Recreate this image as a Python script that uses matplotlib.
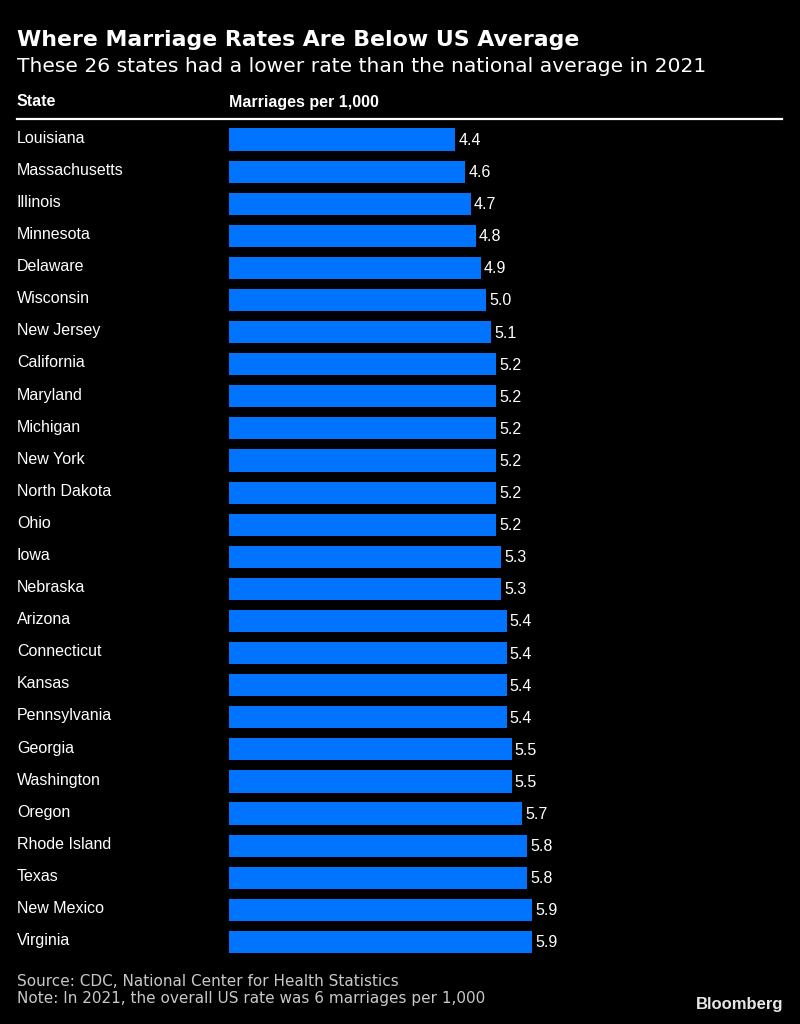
import matplotlib.pyplot as plt
from matplotlib.transforms import blended_transform_factory

states = ['Louisiana', 'Massachusetts', 'Illinois', 'Minnesota', 'Delaware',
          'Wisconsin', 'New Jersey', 'California', 'Maryland', 'Michigan',
          'New York', 'North Dakota', 'Ohio', 'Iowa', 'Nebraska', 'Arizona',
          'Connecticut', 'Kansas', 'Pennsylvania', 'Georgia', 'Washington',
          'Oregon', 'Rhode Island', 'Texas', 'New Mexico', 'Virginia']
rates = [4.4, 4.6, 4.7, 4.8, 4.9, 5.0, 5.1, 5.2, 5.2, 5.2, 5.2, 5.2, 5.2,
         5.3, 5.3, 5.4, 5.4, 5.4, 5.4, 5.5, 5.5, 5.7, 5.8, 5.8, 5.9, 5.9]

W, H = 800, 1024
bg = 'black'
blue = '#0073ff'
lab = ['Liberation Sans', 'DejaVu Sans']

fig = plt.figure(figsize=(W / 100, H / 100), dpi=100, facecolor=bg)

# axes placed in pixel units: bars start at x=229, rows from y~123 to ~958
left, right = 229, 782
top, bottom = 123.5, 958
ax = fig.add_axes([left / W, 1 - bottom / H, (right - left) / W, (bottom - top) / H])
ax.set_facecolor(bg)
px_per_unit = 51.4
ax.set_xlim(0, (right - left) / px_per_unit)
ax.set_ylim(len(states) - 0.5, -0.5)
ax.axis('off')

ypos = list(range(len(states)))
ax.barh(ypos, rates, height=0.69, color=blue)

for y, v in zip(ypos, rates):
    ax.text(v + 0.06, y + 0.03, f'{v:.1f}', color='white', fontsize=11.5,
            family=lab, va='center', ha='left')

tr = blended_transform_factory(fig.transFigure, ax.transData)
for y, s in zip(ypos, states):
    ax.text(17 / W, y - 0.04, s, transform=tr, color='white', fontsize=11.5,
            family=lab, va='center', ha='left')

# titles and header
fig.text(17 / W, 1 - 40 / H, 'Where Marriage Rates Are Below US Average',
         color='white', fontsize=15.8, fontweight='bold', family='DejaVu Sans',
         va='center', ha='left')
fig.text(17 / W, 1 - 67 / H,
         'These 26 states had a lower rate than the national average in 2021',
         color='white', fontsize=14.6, family='DejaVu Sans', va='center', ha='left')
fig.text(17 / W, 1 - 102 / H, 'State', color='white', fontsize=11.5,
         fontweight='bold', family=lab, va='center', ha='left')
fig.text(229 / W, 1 - 102 / H, 'Marriages per 1,000', color='white', fontsize=11.5,
         fontweight='bold', family=lab, va='center', ha='left')
fig.add_artist(plt.Line2D([17 / W, 782 / W], [1 - 118.5 / H, 1 - 118.5 / H],
                          color='white', lw=1.6, transform=fig.transFigure))

# footer
foot = ['Liberation Sans Narrow', 'DejaVu Sans']
fig.text(17 / W, 1 - 982 / H, 'Source: CDC, National Center for Health Statistics',
         color='#c8c8c8', fontsize=11, family=foot, va='center', ha='left')
fig.text(17 / W, 1 - 999 / H, 'Note: In 2021, the overall US rate was 6 marriages per 1,000',
         color='#c8c8c8', fontsize=11, family=foot, va='center', ha='left')
fig.text(783 / W, 1 - 1004 / H, 'Bloomberg', color='#e6e6e6', fontsize=12,
         fontweight='bold', family=lab, va='center', ha='right')

fig.savefig('out.png', dpi=100, facecolor=bg)
